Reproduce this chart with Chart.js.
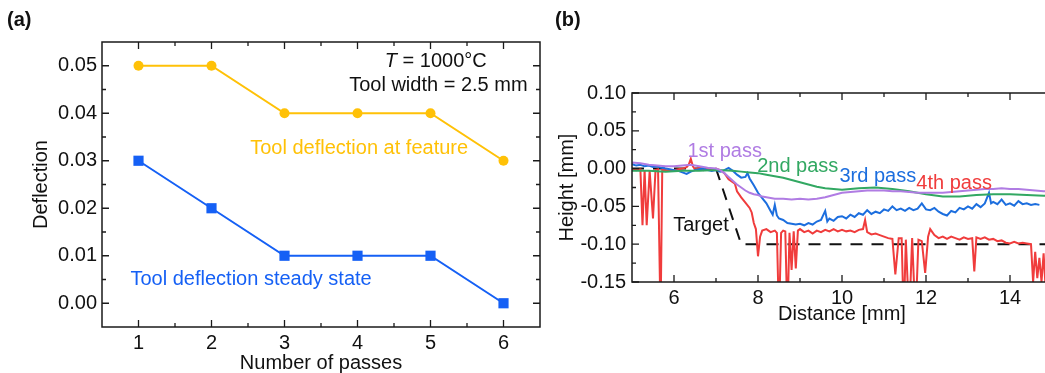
<!DOCTYPE html>
<html>
<head>
<meta charset="utf-8">
<script src="https://cdn.jsdelivr.net/npm/chart.js@4.4.1/dist/chart.umd.min.js"></script>
<style>
  html, body { margin: 0; padding: 0; background: #fff; overflow: hidden; }
  #wrap { position: relative; width: 1045px; height: 373px; overflow: hidden; }
  #chartA { position: absolute; left: 0; top: 0; }
  #chartB { position: absolute; left: 540px; top: 0; }
</style>
</head>
<body>
<div id="wrap">
  <canvas id="chartA" width="560" height="373"></canvas>
  <canvas id="chartB" width="520" height="373"></canvas>
</div>
<script>
// ---- panel (a): deflection vs number of passes ----
const passes = [1, 2, 3, 4, 5, 6];
const featureDefl = [0.05, 0.05, 0.04, 0.04, 0.04, 0.03];
const steadyDefl = [0.03, 0.02, 0.01, 0.01, 0.01, 0.00];
const aXTicks = [1, 2, 3, 4, 5, 6];
const aXMinor = [1.5, 2.5, 3.5, 4.5, 5.5];
const aYTicks = [0, 0.01, 0.02, 0.03, 0.04, 0.05];
const aYMinor = [0.005, 0.015, 0.025, 0.035, 0.045];

// ---- panel (b): height profiles ----
const pass1X = [5.0, 5.2, 5.4, 5.6, 5.8, 6.0, 6.2, 6.4, 6.6, 6.8, 7.0, 7.1, 7.2, 7.3, 7.4, 7.5, 7.6, 7.7, 7.8, 7.9, 8.0, 8.1, 8.2, 8.3, 8.4, 8.6, 8.8, 9.0, 9.2, 9.4, 9.6, 9.8, 10.0, 10.2, 10.4, 10.6, 10.8, 11.0, 11.2, 11.4, 11.6, 11.8, 12.0, 12.2, 12.4, 12.6, 12.8, 13.0, 13.2, 13.4, 13.6, 13.8, 14.0, 14.2, 14.4, 14.6, 14.8, 15.0];
const pass1Y = [0.008, 0.007, 0.005, 0.004, 0.003, 0.003, 0.004, 0.005, 0.003, 0.001, 0.000, -0.002, -0.006, -0.011, -0.016, -0.021, -0.025, -0.029, -0.032, -0.034, -0.035, -0.037, -0.038, -0.039, -0.040, -0.040, -0.041, -0.040, -0.041, -0.040, -0.038, -0.035, -0.032, -0.031, -0.030, -0.029, -0.029, -0.029, -0.030, -0.030, -0.031, -0.032, -0.032, -0.032, -0.032, -0.031, -0.030, -0.029, -0.028, -0.027, -0.027, -0.026, -0.027, -0.027, -0.028, -0.029, -0.030, -0.030];

const pass2X = [5.0, 5.4, 5.8, 6.2, 6.6, 7.0, 7.4, 7.6, 7.8, 8.0, 8.2, 8.4, 8.6, 8.8, 9.0, 9.2, 9.4, 9.6, 9.8, 10.0, 10.4, 10.8, 11.2, 11.6, 12.0, 12.4, 12.8, 13.2, 13.6, 14.0, 14.4, 14.8, 15.0];
const pass2Y = [-0.003, -0.003, -0.004, -0.003, -0.003, -0.002, -0.003, -0.004, -0.005, -0.006, -0.008, -0.010, -0.012, -0.015, -0.018, -0.021, -0.024, -0.026, -0.027, -0.028, -0.026, -0.025, -0.027, -0.030, -0.034, -0.037, -0.037, -0.035, -0.034, -0.034, -0.035, -0.036, -0.036];

const pass3X = [5.0, 5.1, 5.2, 5.3, 5.4, 5.5, 5.6, 5.7, 5.8, 5.9, 6.0, 6.1, 6.2, 6.3, 6.4, 6.5, 6.6, 6.7, 6.8, 6.9, 7.0, 7.1, 7.2, 7.3, 7.4, 7.5, 7.6, 7.7, 7.75, 7.8, 7.9, 8.0, 8.1, 8.2, 8.3, 8.35, 8.4, 8.45, 8.5, 8.6, 8.7, 8.8, 8.9, 9.0, 9.1, 9.2, 9.3, 9.4, 9.5, 9.6, 9.65, 9.7, 9.8, 9.9, 10.0, 10.1, 10.2, 10.3, 10.4, 10.5, 10.6, 10.7, 10.8, 10.9, 11.0, 11.1, 11.2, 11.3, 11.4, 11.5, 11.6, 11.7, 11.8, 11.9, 12.0, 12.1, 12.2, 12.3, 12.4, 12.5, 12.6, 12.7, 12.8, 12.9, 13.0, 13.1, 13.2, 13.3, 13.4, 13.5, 13.55, 13.6, 13.7, 13.8, 13.9, 14.0, 14.1, 14.2, 14.3, 14.4, 14.5, 14.6, 14.7];
const pass3Y = [0.006, 0.004, 0.005, 0.003, 0.004, 0.002, 0.003, 0.001, 0.000, -0.001, -0.002, -0.003, -0.005, -0.007, -0.004, -0.002, -0.001, 0.000, -0.002, -0.003, -0.002, -0.004, -0.002, 0.001, -0.003, -0.008, -0.012, -0.011, -0.006, -0.013, -0.022, -0.032, -0.039, -0.046, -0.056, -0.061, -0.048, -0.062, -0.066, -0.068, -0.072, -0.073, -0.074, -0.073, -0.075, -0.072, -0.074, -0.070, -0.068, -0.056, -0.070, -0.066, -0.069, -0.064, -0.063, -0.066, -0.061, -0.064, -0.059, -0.061, -0.055, -0.060, -0.057, -0.059, -0.054, -0.056, -0.050, -0.055, -0.053, -0.056, -0.052, -0.055, -0.053, -0.046, -0.054, -0.055, -0.052, -0.057, -0.060, -0.062, -0.056, -0.058, -0.052, -0.054, -0.050, -0.053, -0.047, -0.051, -0.046, -0.032, -0.046, -0.044, -0.047, -0.041, -0.048, -0.046, -0.049, -0.043, -0.047, -0.046, -0.048, -0.047, -0.048];

const pass4X = [5.0, 5.1, 5.2, 5.25, 5.3, 5.35, 5.42, 5.5, 5.56, 5.62, 5.68, 5.72, 5.8, 5.9, 6.0, 6.1, 6.2, 6.3, 6.35, 6.4, 6.45, 6.5, 6.6, 6.7, 6.8, 6.9, 7.0, 7.1, 7.2, 7.3, 7.4, 7.45, 7.5, 7.6, 7.7, 7.8, 7.85, 7.9, 7.95, 8.0, 8.05, 8.1, 8.2, 8.3, 8.4, 8.45, 8.5, 8.55, 8.6, 8.65, 8.7, 8.75, 8.8, 8.85, 8.9, 8.95, 9.0, 9.1, 9.2, 9.3, 9.4, 9.5, 9.6, 9.7, 9.8, 9.9, 10.0, 10.1, 10.2, 10.3, 10.4, 10.5, 10.55, 10.6, 10.7, 10.8, 10.9, 11.0, 11.1, 11.2, 11.27, 11.35, 11.42, 11.47, 11.52, 11.6, 11.67, 11.75, 11.82, 11.9, 11.98, 12.05, 12.1, 12.2, 12.3, 12.4, 12.5, 12.6, 12.7, 12.8, 12.9, 13.0, 13.1, 13.15, 13.2, 13.3, 13.4, 13.5, 13.6, 13.7, 13.8, 13.9, 14.0, 14.1, 14.2, 14.3, 14.4, 14.5, 14.55, 14.6, 14.65, 14.7, 14.75, 14.8, 14.85];
const pass4Y = [0.000, -0.002, -0.001, -0.075, -0.002, -0.075, -0.003, -0.066, -0.002, -0.001, -0.200, -0.002, -0.002, -0.003, -0.002, -0.001, 0.000, 0.002, 0.005, 0.013, 0.003, -0.001, 0.001, -0.002, 0.000, -0.002, 0.000, -0.002, -0.006, -0.014, -0.018, -0.020, -0.030, -0.038, -0.045, -0.052, -0.058, -0.072, -0.080, -0.116, -0.090, -0.082, -0.080, -0.084, -0.082, -0.085, -0.200, -0.085, -0.082, -0.083, -0.200, -0.085, -0.134, -0.083, -0.132, -0.082, -0.080, -0.084, -0.082, -0.086, -0.082, -0.084, -0.081, -0.083, -0.080, -0.083, -0.081, -0.083, -0.082, -0.084, -0.081, -0.080, -0.068, -0.084, -0.087, -0.086, -0.088, -0.090, -0.092, -0.093, -0.140, -0.092, -0.092, -0.200, -0.094, -0.200, -0.092, -0.200, -0.094, -0.096, -0.138, -0.090, -0.080, -0.088, -0.092, -0.090, -0.093, -0.090, -0.092, -0.094, -0.091, -0.093, -0.092, -0.136, -0.091, -0.093, -0.091, -0.094, -0.093, -0.096, -0.095, -0.098, -0.099, -0.097, -0.099, -0.098, -0.099, -0.100, -0.150, -0.110, -0.145, -0.118, -0.150, -0.112, -0.160];

const targetX = [5.0, 7.0, 7.6, 15.0];
const targetY = [0.0, 0.0, -0.1, -0.1];

const bXTicks = [6, 8, 10, 12, 14];
const bXMinor = [7, 9, 11, 13];
const bYTicks = [-0.15, -0.10, -0.05, 0.00, 0.05, 0.10];
const bYMinor = [-0.125, -0.075, -0.025, 0.025, 0.075];

const FONT = '"Liberation Sans", Arial, Helvetica, sans-serif';
const FS = 20;
const zip = (xs, ys) => xs.map((x, i) => ({x: x, y: ys[i]}));

// draws the box with inward ticks, like the original plotting software
const framePlugin = {
  id: 'frame',
  afterDatasetsDraw(chart, args, opts) {
    const {ctx, chartArea: a, scales} = chart;
    const x = scales.x, y = scales.y;
    ctx.save();
    ctx.strokeStyle = '#1a1a1a';
    ctx.lineWidth = 1.5;
    ctx.strokeRect(a.left, a.top, a.right - a.left, a.bottom - a.top);
    ctx.lineWidth = 1.3;
    ctx.beginPath();
    const xt = (vals, len) => vals.forEach(v => {
      const px = x.getPixelForValue(v);
      ctx.moveTo(px, a.bottom); ctx.lineTo(px, a.bottom - len);
      ctx.moveTo(px, a.top); ctx.lineTo(px, a.top + len);
    });
    const yt = (vals, len) => vals.forEach(v => {
      const py = y.getPixelForValue(v);
      ctx.moveTo(a.left, py); ctx.lineTo(a.left + len, py);
      ctx.moveTo(a.right, py); ctx.lineTo(a.right - len, py);
    });
    xt(opts.xMajor, 7); xt(opts.xMinor, 4);
    yt(opts.yMajor, 7); yt(opts.yMinor, 4);
    ctx.stroke();
    ctx.restore();
  }
};

// free text labels, placed with the chart scales (or pixels for panel tags)
const notesPlugin = {
  id: 'notes',
  afterDraw(chart, args, opts) {
    const {ctx, scales} = chart;
    ctx.save();
    ctx.textBaseline = 'middle';
    ctx.textAlign = 'left';
    opts.items.forEach(it => {
      const px = it.px !== undefined ? it.px : scales.x.getPixelForValue(it.x);
      const py = it.py !== undefined ? it.py : scales.y.getPixelForValue(it.y);
      const parts = it.parts || [{t: it.text}];
      const fonts = parts.map(p => (p.italic ? 'italic ' : '') + (it.bold ? 'bold ' : '') + FS + 'px ' + FONT);
      const widths = parts.map((p, i) => { ctx.font = fonts[i]; return ctx.measureText(p.t).width; });
      const total = widths.reduce((s, w) => s + w, 0);
      let cx = it.align === 'right' ? px - total : px;
      ctx.fillStyle = it.color || '#111';
      parts.forEach((p, i) => {
        ctx.font = fonts[i];
        ctx.fillText(p.t, cx, py);
        cx += widths[i];
      });
    });
    ctx.restore();
  }
};

const tickFont = {family: FONT, size: FS};
const titleFont = {family: FONT, size: FS, lineHeight: 1};
const noGrid = {display: false, drawTicks: false, tickLength: 0};

function setTicks(vals) {
  return scale => { scale.ticks = vals.map(v => ({value: v})); };
}

// ---------- chart (a) ----------
const GOLD = '#FFC107';
const BLUE_A = '#1560F5';

new Chart(document.getElementById('chartA'), {
  type: 'line',
  data: {
    datasets: [
      {
        data: zip(passes, featureDefl),
        borderColor: GOLD, backgroundColor: GOLD,
        borderWidth: 2, pointStyle: 'circle', pointRadius: 5,
        pointBorderWidth: 0, tension: 0
      },
      {
        data: zip(passes, steadyDefl),
        borderColor: BLUE_A, backgroundColor: BLUE_A,
        borderWidth: 2, pointStyle: 'rect', pointRadius: 7.2,
        pointBorderWidth: 0, tension: 0
      }
    ]
  },
  options: {
    responsive: false,
    animation: false,
    devicePixelRatio: 1,
    layout: {padding: {left: 0, top: 42, right: 20, bottom: 0}},
    plugins: {
      legend: {display: false},
      tooltip: {enabled: false},
      frame: {xMajor: aXTicks, xMinor: aXMinor, yMajor: aYTicks, yMinor: aYMinor},
      notes: {
        items: [
          {text: '(a)', px: 7, py: 20, bold: true, color: '#111'},
          {parts: [{t: 'T', italic: true}, {t: ' = 1000°C'}], x: 5.77, y: 0.0509, align: 'right'},
          {text: 'Tool width = 2.5 mm', x: 6.33, y: 0.0458, align: 'right'},
          {text: 'Tool deflection at feature', x: 2.53, y: 0.0325, color: GOLD},
          {text: 'Tool deflection steady state', x: 0.89, y: 0.0049, color: BLUE_A}
        ]
      }
    },
    scales: {
      x: {
        type: 'linear', min: 0.5, max: 6.5,
        afterBuildTicks: setTicks(aXTicks),
        afterFit: s => { s.height = 46; },
        grid: noGrid, border: {display: false},
        ticks: {font: tickFont, color: '#111', padding: 4, maxRotation: 0, callback: v => String(v)},
        title: {display: true, text: 'Number of passes', font: titleFont, color: '#111', padding: {top: 0, bottom: 0}}
      },
      y: {
        type: 'linear', min: -0.005, max: 0.055,
        afterBuildTicks: setTicks(aYTicks),
        afterFit: s => { s.width = 102; },
        grid: noGrid, border: {display: false},
        ticks: {font: tickFont, color: '#111', padding: 5, callback: v => Number(v).toFixed(2)},
        title: {display: true, text: 'Deflection', font: titleFont, color: '#111', padding: {top: 31, bottom: 0}}
      }
    }
  },
  plugins: [framePlugin, notesPlugin]
});

// ---------- chart (b) ----------
const PURPLE = '#B07CE3';
const GREEN = '#32A862';
const BLUE_B = '#1C6EDE';
const RED = '#F03C3C';

const lineDs = (pts, color, extra) => Object.assign({
  data: pts, borderColor: color, backgroundColor: color,
  borderWidth: 2, pointRadius: 0, tension: 0
}, extra || {});

new Chart(document.getElementById('chartB'), {
  type: 'line',
  data: {
    datasets: [
      lineDs(zip(pass1X, pass1Y), PURPLE),
      lineDs(zip(pass2X, pass2Y), GREEN),
      lineDs(zip(pass3X, pass3Y), BLUE_B),
      lineDs(zip(pass4X, pass4Y), RED),
      lineDs(zip(targetX, targetY), '#111', {borderDash: [12, 9], borderWidth: 2})
    ]
  },
  options: {
    responsive: false,
    animation: false,
    devicePixelRatio: 1,
    layout: {padding: {left: 0, top: 93, right: 8, bottom: 0}},
    plugins: {
      legend: {display: false},
      tooltip: {enabled: false},
      frame: {xMajor: bXTicks, xMinor: bXMinor, yMajor: bYTicks, yMinor: bYMinor},
      notes: {
        items: [
          {text: '(b)', px: 15, py: 20, bold: true, color: '#111'},
          {text: '1st pass', x: 6.32, y: 0.0223, color: PURPLE},
          {text: '2nd pass', x: 7.98, y: 0.0025, color: GREEN},
          {text: '3rd pass', x: 9.94, y: -0.0107, color: BLUE_B},
          {text: '4th pass', x: 11.77, y: -0.020, color: RED},
          {text: 'Target', x: 5.98, y: -0.0756, color: '#111'}
        ]
      }
    },
    scales: {
      x: {
        type: 'linear', min: 5, max: 15,
        afterBuildTicks: setTicks(bXTicks),
        afterFit: s => { s.height = 91; },
        grid: noGrid, border: {display: false},
        ticks: {font: tickFont, color: '#111', padding: 4, maxRotation: 0, callback: v => String(v)},
        title: {display: true, text: 'Distance [mm]', font: titleFont, color: '#111', padding: {top: 0, bottom: 49}}
      },
      y: {
        type: 'linear', min: -0.15, max: 0.10,
        afterBuildTicks: setTicks(bYTicks),
        afterFit: s => { s.width = 92; },
        grid: noGrid, border: {display: false},
        ticks: {font: tickFont, color: '#111', padding: 6, callback: v => Number(v).toFixed(2)},
        title: {display: true, text: 'Height [mm]', font: titleFont, color: '#111', padding: {top: 17, bottom: 0}}
      }
    }
  },
  plugins: [framePlugin, notesPlugin]
});
</script>
</body>
</html>
